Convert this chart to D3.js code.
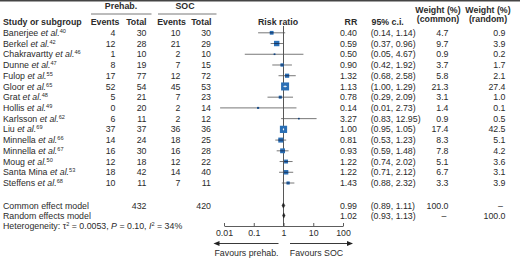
<!DOCTYPE html>
<html><head><meta charset="utf-8">
<script src="https://cdn.jsdelivr.net/npm/d3@7"></script>
<style>
html,body{margin:0;padding:0;background:#fff;}
svg{display:block;font-family:"Liberation Sans",Arial,sans-serif;}
</style></head>
<body>
<svg id="c" width="520" height="259"></svg>
<script>
const studies = ["Banerjee","Berkel","Chakravartty","Dunne","Fulop","Gloor","Grat","Hollis","Karlsson","Liu","Minnella","Minnella","Moug","Santa Mina","Steffens"];
const refs = ["40","42","46","47","55","65","48","49","62","69","66","67","50","53","68"];
const prehabEvents = [4,12,1,8,17,52,5,0,6,37,14,16,12,18,10];
const prehabTotal = [30,28,10,19,77,54,21,20,11,37,24,30,18,42,11];
const socEvents = [10,21,2,7,12,45,7,2,2,36,18,16,12,14,7];
const socTotal = [30,29,10,15,72,53,23,14,12,36,25,28,22,40,11];
const rr = [0.40,0.59,0.50,0.90,1.32,1.13,0.78,0.14,3.27,1.00,0.81,0.93,1.22,1.22,1.43];
const ciLow = [0.14,0.37,0.05,0.42,0.68,1.00,0.29,0.0074,0.83,0.95,0.53,0.59,0.74,0.71,0.88];
const ciHigh = [1.14,0.96,4.67,1.92,2.58,1.29,2.09,2.73,12.95,1.05,1.23,1.48,2.02,2.12,2.32];
const weightCommon = [4.7,9.7,0.9,3.7,5.8,21.3,3.1,1.4,0.9,17.4,8.3,7.8,5.1,6.7,3.3];
const weightRandom = [0.9,3.9,0.2,1.7,2.1,27.4,1.0,0.1,0.5,42.5,5.1,4.2,3.6,3.1,3.9];
const pooledNames = ["Common effect model","Random effects model"];
const pooledRR = [0.99,1.02];
const pooledLow = [0.89,0.93];
const pooledHigh = [1.11,1.13];
const pooledWCommon = ["100.0","\u2013"];
const pooledWRandom = ["\u2013","100.0"];
const totalPrehab = 432, totalSOC = 420;
const axisTicks = [0.01,0.1,1,10,100];
const axisTickLabels = ["0.01","0.1","1","10","100"];

const svg = d3.select("#c");
const FS = 8.8, TXT = "#2b2b2b";
const x = d3.scaleLog().domain([0.01,100]).range([224,343]);
const y = d3.scaleLinear().domain([0,studies.length-1]).range([32.8,183]);
const yPool = [205.5, 215.5];
const size = d3.scaleSqrt().domain([0,21.3]).range([0,8]);
const f2 = d3.format(".2f"), f1 = d3.format(".1f");

function txt(xp, yp, s, anchor, bold){
  return svg.append("text").attr("x",xp).attr("y",yp).attr("dy","0.35em")
    .attr("text-anchor",anchor||"start").attr("font-size",FS).attr("fill",TXT)
    .attr("font-weight",bold?"bold":"normal").text(s);
}

// top rule
svg.append("line").attr("x1",0).attr("x2",520).attr("y1",0.7).attr("y2",0.7).attr("stroke","#444").attr("stroke-width",1.5);

// headers
txt(121,6,"Prehab.","middle",true);
txt(185,6,"SOC","middle",true);
svg.append("line").attr("x1",91).attr("x2",151.5).attr("y1",14).attr("y2",14).attr("stroke","#555").attr("stroke-width",0.8);
svg.append("line").attr("x1",158).attr("x2",216.5).attr("y1",14).attr("y2",14).attr("stroke","#555").attr("stroke-width",0.8);
txt(3,21.5,"Study or subgroup","start",true);
txt(119.5,21.5,"Events","end",true);
txt(146.5,21.5,"Total","end",true);
txt(186,21.5,"Events","end",true);
txt(211.5,21.5,"Total","end",true);
txt(278,21.5,"Risk ratio","middle",true);
txt(357.3,21.5,"RR","end",true);
txt(371.5,21.5,"95% c.i.","start",true);
txt(438,9.5,"Weight (%)","middle",true);
txt(438,19,"(common)","middle",true);
txt(488,9.5,"Weight (%)","middle",true);
txt(488,19,"(random)","middle",true);

// study rows
studies.forEach((s,i)=>{
  const yy = y(i);
  const t = svg.append("text").attr("x",3).attr("y",yy).attr("dy","0.35em").attr("font-size",FS).attr("fill",TXT);
  t.append("tspan").text(s+" ");
  t.append("tspan").attr("font-style","italic").text("et al.");
  t.append("tspan").attr("font-size",5.6).attr("dy",-3).text(refs[i]);
  txt(115.5,yy,prehabEvents[i],"end");
  txt(146.5,yy,prehabTotal[i],"end");
  txt(180.5,yy,socEvents[i],"end");
  txt(211,yy,socTotal[i],"end");
  txt(357,yy,f2(rr[i]),"end");
  txt(370.7,yy,"("+f2(ciLow[i])+", "+f2(ciHigh[i])+")","start");
  txt(448.5,yy,f1(weightCommon[i]),"end");
  txt(505.5,yy,f1(weightRandom[i]),"end");
});

// pooled rows
pooledNames.forEach((n,k)=>{
  const yy = yPool[k];
  txt(3,yy,n,"start");
  txt(357,yy,f2(pooledRR[k]),"end");
  txt(370.7,yy,"("+f2(pooledLow[k])+", "+f2(pooledHigh[k])+")","start");
  txt(pooledWCommon[k]==="\u2013"?446.5:448.5,yy,pooledWCommon[k],"end");
  txt(pooledWRandom[k]==="\u2013"?503:505.5,yy,pooledWRandom[k],"end");
});
txt(146.5,yPool[0],totalPrehab,"end");
txt(211,yPool[0],totalSOC,"end");

// heterogeneity
{
  const t = svg.append("text").attr("x",3).attr("y",225.5).attr("dy","0.35em").attr("font-size",FS).attr("fill",TXT);
  t.append("tspan").text("Heterogeneity: \u03c4");
  t.append("tspan").attr("font-size",5.6).attr("dy",-3).text("2");
  t.append("tspan").attr("dy",3).text(" = 0.0053, ");
  t.append("tspan").attr("font-style","italic").text("P");
  t.append("tspan").text(" = 0.10, ");
  t.append("tspan").attr("font-style","italic").text("I");
  t.append("tspan").attr("font-size",5.6).attr("dy",-3).text("2");
  t.append("tspan").attr("dy",3).text(" = 34%");
}

// reference line
svg.append("line").attr("x1",x(1)).attr("x2",x(1)).attr("y1",26).attr("y2",226).attr("stroke","#444").attr("stroke-width",0.9);

// study marks
const g = svg.append("g");
studies.forEach((s,i)=>{
  const yy = y(i), cx = x(rr[i]), sz = size(weightCommon[i]);
  const x1 = x(ciLow[i]), x2 = x(ciHigh[i]);
  const inside = x1 >= cx - sz/2 && x2 <= cx + sz/2;
  if(!inside){
    g.append("line").attr("x1",x1).attr("x2",x2).attr("y1",yy).attr("y2",yy).attr("stroke","#555").attr("stroke-width",0.8);
  }
  g.append("rect").attr("x",cx-sz/2).attr("y",yy-sz/2).attr("width",sz).attr("height",sz).attr("fill","#2a6fb5");
  if(inside){
    g.append("line").attr("x1",x1).attr("x2",x2).attr("y1",yy).attr("y2",yy).attr("stroke","#fff").attr("stroke-width",0.8);
    g.append("line").attr("x1",cx).attr("x2",cx).attr("y1",yy-1).attr("y2",yy+1).attr("stroke","#fff").attr("stroke-width",0.8);
  } else {
    g.append("line").attr("x1",Math.max(x1,cx-sz/2)).attr("x2",Math.min(x2,cx+sz/2)).attr("y1",yy).attr("y2",yy).attr("stroke","#1b3560").attr("stroke-width",1);
  }
});

// diamonds
pooledRR.forEach((r,k)=>{
  const yy = yPool[k], h = 2.6;
  const pts = [[x(pooledLow[k]),yy],[x(r),yy-h],[x(pooledHigh[k]),yy],[x(r),yy+h]];
  svg.append("path").attr("d","M"+pts.map(p=>p.join(",")).join("L")+"Z").attr("fill","#222").attr("stroke","#222").attr("stroke-width",0.5);
});

// axis
const axis = d3.axisBottom(x).tickValues(axisTicks).tickFormat((d,i)=>axisTickLabels[i]).tickSizeInner(-3).tickSizeOuter(0).tickPadding(4);
const ag = svg.append("g").attr("transform","translate(0,226)").call(axis);
ag.select(".domain").attr("stroke","#333").attr("stroke-width",0.8);
ag.selectAll(".tick line").attr("stroke","#333").attr("stroke-width",0.8);
ag.selectAll(".tick text").attr("font-size",FS).attr("fill",TXT).attr("font-family","Liberation Sans, Arial, sans-serif");

// arrows
const ay = 243.5;
svg.append("line").attr("x1",278.5).attr("x2",218).attr("y1",ay).attr("y2",ay).attr("stroke","#222").attr("stroke-width",0.9);
svg.append("path").attr("d",`M213.5,${ay}L219.5,${ay-2.5}L219.5,${ay+2.5}Z`).attr("fill","#222");
svg.append("line").attr("x1",290).attr("x2",348).attr("y1",ay).attr("y2",ay).attr("stroke","#222").attr("stroke-width",0.9);
svg.append("path").attr("d",`M353,${ay}L347,${ay-2.5}L347,${ay+2.5}Z`).attr("fill","#222");
txt(246.5,252.8,"Favours prehab.","middle");
txt(316.5,252.8,"Favours SOC","middle");
</script>
</body></html>
